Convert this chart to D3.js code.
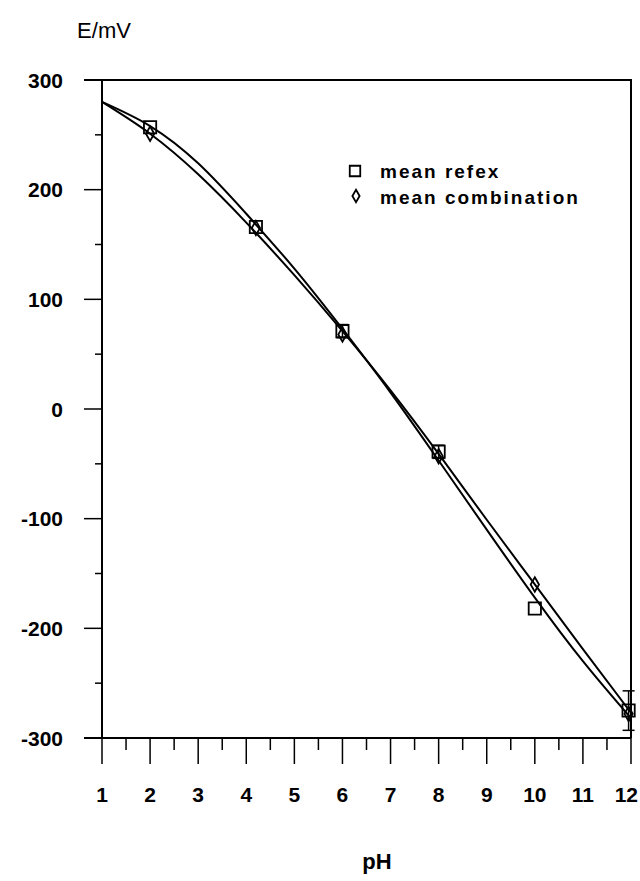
<!DOCTYPE html>
<html lang="en">
<head>
<meta charset="utf-8">
<title>E vs pH</title>
<script src="https://d3js.org/d3.v7.min.js"></script>
<style>
  body { margin: 0; background: #fff; }
  text { font-family: "Liberation Sans", Arial, sans-serif; font-weight: bold; fill: #000; }
</style>
</head>
<body>
<div id="chart"></div>
<script>
// measured points
const refexPH = [2, 4.2, 6, 8, 10, 11.95];
const refexE = [257, 166, 71, -39, -182, -275];
const refexErr = [0, 0, 6, 6, 0, 18];

const combPH = [2, 4.2, 6, 8, 10, 11.95];
const combE = [251, 165, 68, -43, -160, -278];

// fitted curves
const fitPH = [1, 2, 3, 4, 5, 6, 7, 8, 9, 10, 11, 12];
const fitA = [280, 258, 224, 178, 128, 73, 15, -47, -110, -172, -230, -282];
const fitB = [280, 251, 214, 170, 122, 71, 17, -41, -101, -160, -219, -277];

const xTicks = d3.range(1, 13);
const yTicks = [300, 200, 100, 0, -100, -200, -300];

const W = 640, H = 881;
const svg = d3.select("#chart").append("svg")
  .attr("width", W).attr("height", H);

const x = d3.scaleLinear().domain([1, 12]).range([102, 631]);
const y = d3.scaleLinear().domain([-300, 300]).range([738, 80]);

// frame: top and right edges
svg.append("path")
  .attr("d", `M${x(1) - 18},${y(300)} H${x(12)} V${y(-300)}`)
  .attr("fill", "none").attr("stroke", "#000").attr("stroke-width", 2);

// y axis with long majors and short minors
const yAxis = svg.append("g").attr("transform", `translate(${x(1)},0)`);
yAxis.append("line").attr("y1", y(300)).attr("y2", y(-300))
  .attr("stroke", "#000").attr("stroke-width", 2);
yAxis.selectAll(".minor").data(d3.range(-250, 300, 100)).enter().append("line")
  .attr("x1", -7).attr("x2", 0).attr("y1", d => y(d)).attr("y2", d => y(d))
  .attr("stroke", "#000").attr("stroke-width", 1.5);
yAxis.selectAll(".major").data(yTicks).enter().append("line")
  .attr("x1", -18).attr("x2", 0).attr("y1", d => y(d)).attr("y2", d => y(d))
  .attr("stroke", "#000").attr("stroke-width", 1.5);
yAxis.selectAll("text").data(yTicks).enter().append("text")
  .attr("x", -39).attr("y", d => y(d)).attr("dy", "0.36em")
  .attr("text-anchor", "end").style("font-size", "21px")
  .text(d => d);

// x axis
const xAxis = svg.append("g").attr("transform", `translate(0,${y(-300)})`);
xAxis.append("line").attr("x1", x(1) - 18).attr("x2", x(12))
  .attr("stroke", "#000").attr("stroke-width", 2);
xAxis.selectAll(".minor").data(d3.range(1.5, 12, 1)).enter().append("line")
  .attr("x1", d => x(d)).attr("x2", d => x(d)).attr("y1", 0).attr("y2", 12)
  .attr("stroke", "#000").attr("stroke-width", 1.5);
xAxis.selectAll(".major").data(xTicks).enter().append("line")
  .attr("x1", d => x(d)).attr("x2", d => x(d)).attr("y1", 0).attr("y2", 26)
  .attr("stroke", "#000").attr("stroke-width", 1.5);
xAxis.selectAll("text").data(xTicks).enter().append("text")
  .attr("x", d => d === 12 ? 638 : x(d)).attr("y", 64)
  .attr("text-anchor", d => d === 12 ? "end" : "middle")
  .style("font-size", "21px")
  .text(d => d);

// axis titles
svg.append("text").attr("x", 104).attr("y", 38).attr("text-anchor", "middle")
  .style("font-size", "22px").style("font-weight", "normal").text("E/mV");
svg.append("text").attr("x", 377).attr("y", 869).attr("text-anchor", "middle")
  .style("font-size", "22px").text("pH");

// fitted lines
const line = d3.line().curve(d3.curveNatural)
  .x((d, i) => x(fitPH[i])).y(d => y(d));
[fitA, fitB].forEach(f => {
  svg.append("path").attr("d", line(f))
    .attr("fill", "none").attr("stroke", "#000").attr("stroke-width", 2);
});

// error bars
refexPH.forEach((p, i) => {
  const e = refexErr[i];
  if (!e) return;
  const g = svg.append("g").attr("stroke", "#000").attr("stroke-width", 1.5);
  g.append("line").attr("x1", x(p)).attr("x2", x(p))
    .attr("y1", y(refexE[i] + e)).attr("y2", y(refexE[i] - e));
  [refexE[i] + e, refexE[i] - e].forEach(v => {
    g.append("line").attr("x1", x(p) - 6).attr("x2", x(p) + 6)
      .attr("y1", y(v)).attr("y2", y(v));
  });
});

// markers
const sq = d3.symbol().type(d3.symbolSquare).size(150);
const dia = d3.symbol().type(d3.symbolDiamond).size(60);
svg.selectAll(".sq").data(refexPH).enter().append("path")
  .attr("d", sq)
  .attr("transform", (d, i) => `translate(${x(d)},${y(refexE[i])})`)
  .attr("fill", "none").attr("stroke", "#000").attr("stroke-width", 1.8);
svg.selectAll(".dia").data(combPH).enter().append("path")
  .attr("d", dia)
  .attr("transform", (d, i) => `translate(${x(d)},${y(combE[i])})`)
  .attr("fill", "none").attr("stroke", "#000").attr("stroke-width", 1.8);

// legend
const lg = svg.append("g");
lg.append("path").attr("d", d3.symbol().type(d3.symbolSquare).size(110))
  .attr("transform", "translate(355,171)")
  .attr("fill", "none").attr("stroke", "#000").attr("stroke-width", 1.8);
lg.append("path").attr("d", d3.symbol().type(d3.symbolDiamond).size(45))
  .attr("transform", "translate(356,196)")
  .attr("fill", "none").attr("stroke", "#000").attr("stroke-width", 1.8);
lg.append("text").attr("x", 380).attr("y", 178).style("font-size", "19px")
  .style("letter-spacing", "2px").text("mean  refex");
lg.append("text").attr("x", 380).attr("y", 204).style("font-size", "19px")
  .style("letter-spacing", "2px").text("mean  combination");
</script>
</body>
</html>
